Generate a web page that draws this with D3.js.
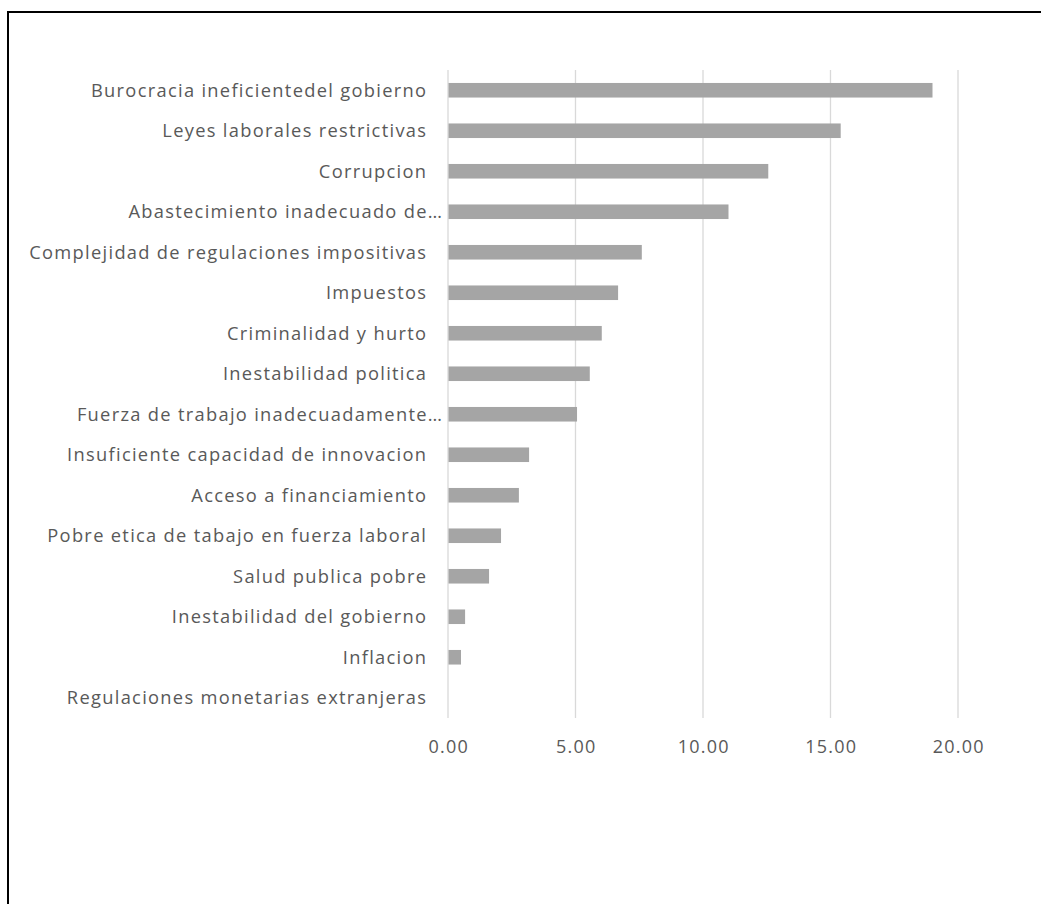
<!DOCTYPE html>
<html>
<head>
<meta charset="utf-8">
<script src="https://cdn.jsdelivr.net/npm/d3@7"></script>
<style>
  html, body { margin: 0; padding: 0; background: #fff; }
  svg { display: block; }
  text { font-family: "Open Sans", "Noto Sans", sans-serif; fill: #595959; }
</style>
</head>
<body>
<svg id="chart" width="1041" height="904"></svg>
<script>
// Obstáculos para hacer negocios (porcentaje de respuestas)
const categories = [
  "Burocracia ineficientedel gobierno",
  "Leyes laborales restrictivas",
  "Corrupcion",
  "Abastecimiento inadecuado de…",
  "Complejidad de regulaciones impositivas",
  "Impuestos",
  "Criminalidad y hurto",
  "Inestabilidad politica",
  "Fuerza de trabajo inadecuadamente…",
  "Insuficiente capacidad de innovacion",
  "Acceso a financiamiento",
  "Pobre etica de tabajo en fuerza laboral",
  "Salud publica pobre",
  "Inestabilidad del gobierno",
  "Inflacion",
  "Regulaciones monetarias extranjeras"
];
const values = [19.0, 15.4, 12.56, 11.0, 7.6, 6.67, 6.03, 5.56, 5.06, 3.18, 2.78, 2.08, 1.61, 0.67, 0.51, 0.0];
const tickValues = [0, 5, 10, 15, 20];

const svg = d3.select("#chart");

// chart frame (runs off the right and bottom edges)
svg.append("rect")
  .attr("x", 8).attr("y", 12)
  .attr("width", 1045).attr("height", 900)
  .attr("fill", "none").attr("stroke", "#000").attr("stroke-width", 2);

const x = d3.scaleLinear().domain([0, 20]).range([448, 958]);
const y = d3.scaleBand().domain(categories).range([70, 718])
  .paddingInner(0.64).paddingOuter(0.32);

// vertical gridlines
svg.append("g").selectAll("line")
  .data(tickValues)
  .join("line")
  .attr("x1", d => x(d)).attr("x2", d => x(d))
  .attr("y1", 70).attr("y2", 718)
  .attr("stroke", "#d9d9d9").attr("stroke-width", 1.3);

// bars
svg.append("g").selectAll("rect")
  .data(values)
  .join("rect")
  .attr("x", x(0) + 0.5)
  .attr("y", (d, i) => y(categories[i]))
  .attr("width", d => Math.max(0, x(d) - x(0) - 0.5))
  .attr("height", y.bandwidth())
  .attr("fill", "#a5a5a5");

// category labels
const ls = 1.3;
svg.append("g").selectAll("text")
  .data(categories)
  .join("text")
  .attr("x", d => (d.endsWith("…") ? 442 : 426) + ls)
  .attr("y", d => y(d) + y.bandwidth() / 2)
  .attr("dy", "0.36em")
  .attr("text-anchor", "end")
  .attr("font-size", "18.3px")
  .attr("letter-spacing", ls + "px")
  .text(d => d);

// x tick labels
const fmt = d3.format(".2f");
svg.append("g").selectAll("text")
  .data(tickValues)
  .join("text")
  .attr("x", d => x(d) + 0.7)
  .attr("y", 747)
  .attr("dy", "0.36em")
  .attr("text-anchor", "middle")
  .attr("font-size", "18px")
  .attr("letter-spacing", "1.2px")
  .text(d => fmt(d));
</script>
</body>
</html>
